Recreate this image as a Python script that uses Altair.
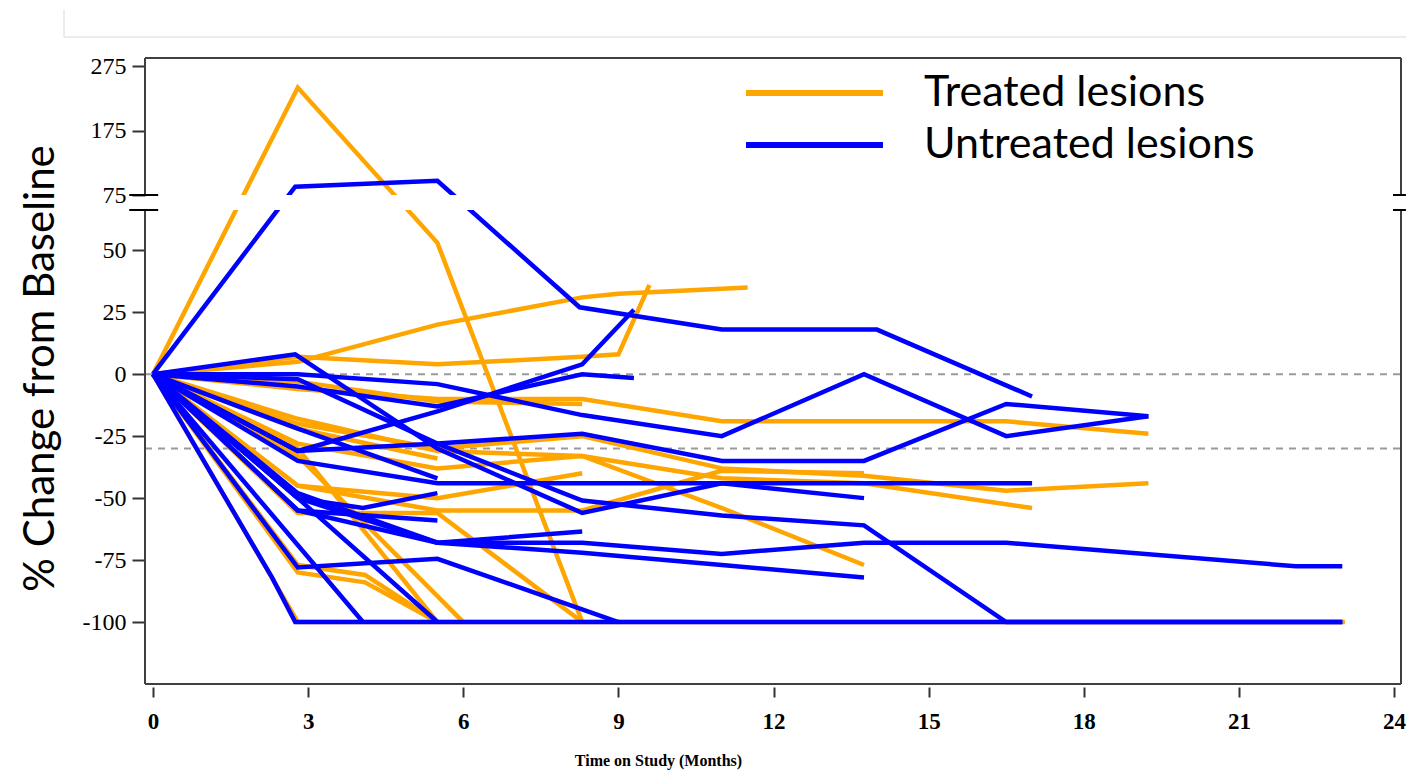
import altair as alt
import pandas as pd

# ---------------- data ----------------
GROUPS = ["Treated lesions", "Untreated lesions"]
COLORS = ["#FFA500", "#0000FF"]

TREATED_T = [
    [0, 2.8, 5.5, 8.3],
    [0, 2.8, 5.5, 8.3, 9.0, 11.5],
    [0, 2.8, 5.5, 8.3, 9.0, 9.6],
    [0, 2.8, 5.5, 8.3],
    [0, 2.8, 5.5, 8.3, 11.0, 13.75, 16.5, 19.25],
    [0, 2.8, 5.5, 8.3, 11.0, 13.75, 16.5, 19.25],
    [0, 2.8, 5.5, 8.3, 11.0, 13.75, 17.0],
    [0, 2.8, 5.5, 8.3, 11.0, 13.75],
    [0, 2.8, 5.5, 8.3, 11.0, 13.75, 16.5, 19.25, 22.1, 23.05],
    [0, 2.8, 4.1, 5.5],
    [0, 2.8, 4.1, 5.5],
    [0, 2.8, 5.5],
    [0, 2.8, 6.0],
    [0, 2.8, 5.5, 8.3, 11.0, 13.75],
    [0, 2.8, 5.5, 8.3],
    [0, 2.8, 5.5],
    [0, 2.8, 5.5, 8.3],
]
TREATED_V = [
    [0, 242, 53, -100],
    [0, 5, 20, 31, 32.5, 35],
    [0, 7, 4, 7, 8, 36],
    [0, -3, -11, -12],
    [0, -6, -10, -10, -19, -19, -19, -24],
    [0, -20, -30, -25, -38, -41, -47, -44],
    [0, -18, -31, -33, -42, -44, -54],
    [0, -28, -38, -33, -54, -77],
    [0, -100, -100, -100, -100, -100, -100, -100, -100, -100],
    [0, -80, -84, -100],
    [0, -77, -81, -100],
    [0, -30, -100],
    [0, -33, -100],
    [0, -45, -55, -55, -39, -40],
    [0, -45, -50, -40],
    [0, -22, -34],
    [0, -56, -56, -100],
]

UNTREATED_T = [
    [0, 2.75, 5.5, 8.25, 11.0, 14.0, 17.0],
    [0, 2.8, 5.5, 8.3, 11.0, 13.75, 16.5, 19.25],
    [0, 2.8, 5.5, 8.3, 9.3],
    [0, 2.8, 5.5, 8.3, 11.0, 13.75, 16.5, 19.25],
    [0, 2.8, 5.5, 8.3, 9.3],
    [0, 2.75, 5.5, 8.3, 11.0, 13.75],
    [0, 2.3, 2.75, 5.5, 8.3, 11.0, 13.75, 16.5, 19.25, 22.1, 23.0],
    [0, 4.06],
    [0, 2.8, 5.5, 9.0],
    [0, 2.8, 5.5, 8.3, 11.0, 13.75, 16.5, 22.1, 23.0],
    [0, 2.8, 5.5, 8.3, 11.0, 13.75, 16.5, 19.25, 22.1, 23.0],
    [0, 2.8, 5.5, 8.3, 11.0, 13.75, 17.0],
    [0, 2.8, 5.5, 8.3, 11.0, 13.75],
    [0, 2.8, 5.5, 8.3],
    [0, 2.8, 5.5],
    [0, 2.8, 4.06, 5.5],
    [0, 2.8, 5.5],
    [0, 2.8, 5.5],
]
UNTREATED_V = [
    [0, 88, 97, 27, 18, 18, -9],
    [0, 0, -4, -16.5, -25, 0, -25, -17],
    [0, -31, -15, 4, 26],
    [0, -31, -28, -24, -35, -35, -12, -17],
    [0, -5, -13, 0, -1.5],
    [0, 8, -30, -56, -44, -50],
    [0, -82, -100, -100, -100, -100, -100, -100, -100, -100, -100],
    [0, -100],
    [0, -78, -74.5, -100],
    [0, -50, -68, -68, -72.5, -68, -68, -77.5, -77.5],
    [0, -2, -28, -51, -57, -61, -100, -100, -100, -100],
    [0, -35, -44, -44, -44, -44, -44],
    [0, -55, -68, -72, -77, -82],
    [0, -48, -68, -63.5],
    [0, -55, -59],
    [0, -50, -54, -48],
    [0, -50, -100],
    [0, -22, -42],
]

X_TICKS = [0, 3, 6, 9, 12, 15, 18, 21, 24]
Y_TICKS = [-100, -75, -50, -25, 0, 25, 50, 75, 175, 275]
REF_LINES = [0, -30]

# ---------------- scale set-up (broken y axis) ----------------
X_DOMAIN = [-0.155, 24.135]
Y_DOMAIN = [-125, 66.25, 75, 288]
PLOT_W, PLOT_H = 1256, 626
Y_RANGE = [PLOT_H, 152, 137, 0]

rows = []
for gi, (TT, VV) in enumerate([(TREATED_T, TREATED_V), (UNTREATED_T, UNTREATED_V)]):
    for si, (ts, vs) in enumerate(zip(TT, VV)):
        for k, (t, v) in enumerate(zip(ts, vs)):
            rows.append({"sid": f"{gi}-{si}", "group": GROUPS[gi], "t": t, "v": v, "k": k})
df = pd.DataFrame(rows)

xscale = alt.Scale(domain=X_DOMAIN, nice=False, zero=False)
yscale = alt.Scale(domain=Y_DOMAIN, range=Y_RANGE, nice=False, zero=False)

x_axis = alt.Axis(
    values=X_TICKS, domain=False, grid=False, offset=3,
    tickSize=10, tickWidth=2, tickColor="#333333",
    labelFont="Liberation Serif", labelFontSize=23, labelFontWeight="bold",
    labelColor="black", labelPadding=13,
    title="Time on Study (Months)", titleFont="Liberation Serif",
    titleFontSize=16, titleFontWeight="bold", titleColor="black",
    titleX=513, titleY=73, titleBaseline="middle",
)
y_axis = alt.Axis(
    values=Y_TICKS, domain=False, grid=False,
    tickSize=13, tickWidth=2, tickColor="#333333",
    labelFont="Liberation Serif", labelFontSize=24, labelColor="black",
    labelPadding=6,
    labelExpr="datum.value < 0 ? '-' + abs(datum.value) : '' + datum.value",
    title="% Change from Baseline", titleFont="Lato", titleFontSize=42,
    titleFontWeight="normal", titleColor="black",
    titleX=-105, titleY=310, titleAngle=270, titleBaseline="middle",
    titleAlign="center",
)

color = alt.Color(
    "group:N",
    scale=alt.Scale(domain=GROUPS, range=COLORS),
    legend=alt.Legend(
        title=None, orient="none", legendX=598, legendY=9,
        symbolType="stroke", symbolSize=18769, symbolStrokeWidth=6,
        clipHeight=52, labelOffset=38, labelFont="Lato", labelFontSize=43,
        labelColor="black", rowPadding=0, padding=0, labelLimit=700,
    ),
)

base = alt.Chart(df)

ref = alt.Chart(pd.DataFrame({"ref": REF_LINES})).mark_rule(
    color="#9a9a9a", strokeWidth=2, strokeDash=[7, 6]
).encode(
    y=alt.Y("ref:Q", scale=yscale),
    x=alt.datum(X_DOMAIN[0]),
    x2=alt.datum(X_DOMAIN[1]),
)

treated = base.transform_filter(alt.datum.group == GROUPS[0]).mark_line(strokeWidth=4.5).encode(
    x=alt.X("t:Q", scale=xscale, axis=x_axis),
    y=alt.Y("v:Q", scale=yscale, axis=y_axis),
    detail="sid:N",
    order="k:Q",
    color=color,
)
untreated = base.transform_filter(alt.datum.group == GROUPS[1]).mark_line(strokeWidth=4.5).encode(
    x=alt.X("t:Q", scale=xscale),
    y=alt.Y("v:Q", scale=yscale),
    detail="sid:N",
    order="k:Q",
    color=color,
)

# white gap band of the axis break
band = alt.Chart(pd.DataFrame({"a": [0]})).mark_rect(color="white").encode(
    x=alt.datum(X_DOMAIN[0] + 0.02), x2=alt.datum(X_DOMAIN[1] - 0.02),
    y=alt.datum(Y_DOMAIN[1]), y2=alt.datum(Y_DOMAIN[2]),
)

FRAME = "#404040"
frame_v = alt.Chart(pd.DataFrame({
    "fx": [X_DOMAIN[0], X_DOMAIN[0], X_DOMAIN[1], X_DOMAIN[1]],
    "fy1": [Y_DOMAIN[0], Y_DOMAIN[2], Y_DOMAIN[0], Y_DOMAIN[2]],
    "fy2": [Y_DOMAIN[1], Y_DOMAIN[3], Y_DOMAIN[1], Y_DOMAIN[3]],
})).mark_rule(color=FRAME, strokeWidth=2).encode(
    x=alt.X("fx:Q"), y=alt.Y("fy1:Q"), y2="fy2:Q",
)
frame_h = alt.Chart(pd.DataFrame({"fy": [Y_DOMAIN[0], Y_DOMAIN[3]]})).mark_rule(
    color=FRAME, strokeWidth=2
).encode(
    y=alt.Y("fy:Q"), x=alt.datum(X_DOMAIN[0]), x2=alt.datum(X_DOMAIN[1]),
)
breaks = alt.Chart(pd.DataFrame({
    "bx1": [-0.46, -0.46, 23.98, 23.98],
    "bx2": [0.1, 0.1, 24.23, 24.23],
    "by": [Y_DOMAIN[1], Y_DOMAIN[2], Y_DOMAIN[1], Y_DOMAIN[2]],
})).mark_rule(color="black", strokeWidth=2).encode(
    x=alt.X("bx1:Q"), x2="bx2:Q", y=alt.Y("by:Q"),
)

# faint page frame visible at the top of the reference
page_h = alt.Chart(pd.DataFrame({"a": [0]})).mark_rule(color="#d9d9d9", strokeWidth=1).encode(
    x=alt.value(-81), x2=alt.value(1262), y=alt.value(-21)
)
page_v = alt.Chart(pd.DataFrame({"a": [0]})).mark_rule(color="#d9d9d9", strokeWidth=1).encode(
    x=alt.value(-81), y=alt.value(-48), y2=alt.value(-21)
)

chart = alt.layer(
    ref, treated, untreated, band, frame_v, frame_h, breaks, page_h, page_v
).properties(
    width=PLOT_W, height=PLOT_H,
    autosize=alt.AutoSizeParams(type="none"),
    padding={"left": 137, "top": 50, "right": 5, "bottom": 86},
    background="white",
).configure_view(stroke=None)

chart.save("out.html", embed_options={"renderer": "svg", "actions": False})
